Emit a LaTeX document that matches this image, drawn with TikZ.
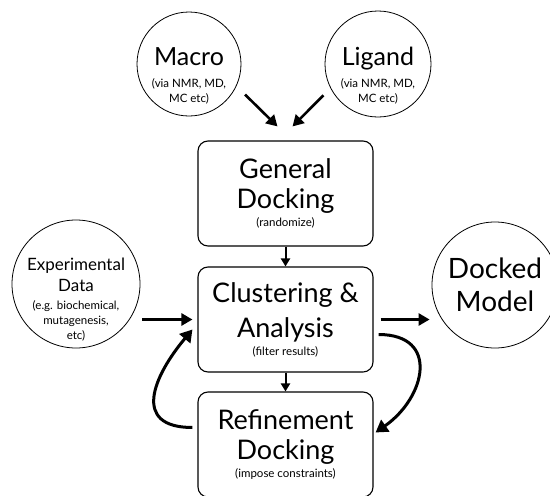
\documentclass[tikz,border=0pt]{standalone}
\usepackage{fontspec}
\setmainfont{Lato}
\usetikzlibrary{arrows.meta,positioning,calc}
\newcommand{\bigtxt}[1]{{\fontsize{27}{15}\selectfont #1}}
\newcommand{\inputtxt}[1]{{\fontsize{25}{15}\selectfont #1}}
\newcommand{\midtxt}[1]{{\fontsize{17}{15}\selectfont #1}}

\begin{document}
\begin{tikzpicture}[
  x=1pt, y=1pt,
  font=\fontsize{11.5}{15}\selectfont,
  bubble/.style={draw, circle, line width=0.8pt, inner sep=0pt},
  stage/.style={draw, line width=1.1pt, rounded corners=3.5mm,
    minimum width=175pt, minimum height=105pt, align=center, inner sep=2pt,
    execute at begin node=\rule{0pt}{31pt}},
  lbl/.style={align=center, inner sep=0pt},
  arr/.style={-{Triangle[length=11pt,width=12pt]}, line width=2.6pt},
  sarr/.style={-{Triangle[length=8pt,width=9pt]}, line width=2pt},
  loop/.style={-{Triangle[length=12pt,width=14pt]}, line width=3pt},
]
\useasboundingbox (0,0) rectangle (550,-496);
% inputs
\node[bubble, minimum size=104pt] (macro) at (189,-64) {};
\node[lbl] (macro-txt) at ([yshift=-12pt]macro.center) {\inputtxt{Macro}\\[7pt] (via NMR, MD,\\ MC etc)};
\node[bubble, minimum size=106pt] (ligand) at (378,-64) {};
\node[lbl] (ligand-txt) at ([yshift=-12pt]ligand.center) {\inputtxt{Ligand}\\[7pt] (via NMR, MD,\\ MC etc)};
\node[bubble, minimum size=128pt] (exp) at (76,-284) {};
\node[lbl] (exp-txt) at ([yshift=-16pt]exp.center) {\midtxt{Experimental}\\[5pt] \midtxt{Data}\\[3pt] (e.g. biochemical,\\ mutagenesis,\\ etc)};
% pipeline
\node[stage] (gen) at (285.5,-193.5) {\bigtxt{General}\\[9pt] \bigtxt{Docking}\\[3pt] (randomize)};
\node[stage] (cluster) at (285.5,-319.5) {\bigtxt{Clustering \&}\\[9pt] \bigtxt{Analysis}\\[3pt] (filter results)};
\node[stage] (refine) at (285.5,-444.5) {\bigtxt{Refinement}\\[9pt] \bigtxt{Docking}\\[3pt] (impose constraints)};
% output
\node[bubble, minimum size=126pt, font=\fontsize{28}{33}\selectfont, align=center] (docked) at (495,-285) {Docked\\ Model};
\draw[arr, shorten <=12pt] (macro.-25) -- ([xshift=-8pt,yshift=14pt]gen.north);
\draw[arr, shorten <=10pt] (ligand.-153) -- ([xshift=7pt,yshift=14pt]gen.north);
\draw[sarr] (gen) -- (cluster);
\draw[sarr] (cluster) -- (refine);
\draw[arr, shorten <=2pt, shorten >=5pt] (exp.east |- cluster.west) -- (cluster.west);
\draw[arr, shorten <=7pt, shorten >=2pt] (cluster.east) -- (docked.west |- cluster.east);
\draw[loop] ([xshift=-5pt,yshift=17pt]refine.west) to[out=180,in=230,looseness=1.6] ([xshift=-5pt,yshift=-10pt]cluster.west);
\draw[loop] ([xshift=5pt,yshift=-15pt]cluster.east) to[out=0,in=35,looseness=1.6] ([xshift=2pt,yshift=12pt]refine.east);
\end{tikzpicture}
\end{document}
